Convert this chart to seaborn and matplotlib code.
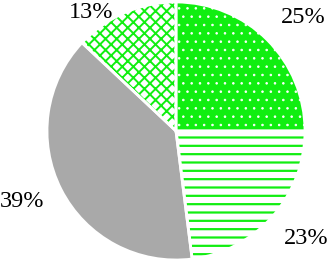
import seaborn as sns
import matplotlib.pyplot as plt

# slice data (clockwise from 12 o'clock)
shares = [25, 23, 39, 13]
faces = ["#11ee11", "white", "#a9a9a9", "white"]
hatch_colors = ["white", "#11ee11", "#a9a9a9", "#11ee11"]
hatches = ["..", "--", "", "xxx"]
hatch_widths = [0.6, 1.6, 1.0, 1.4]

# where the percentage labels sit (pie radius = 1)
label_xy = [(0.984, 0.876), (1.008, -0.837), (-1.194, -0.543), (-0.659, 0.915)]

sns.set_style("white")
plt.rcParams["font.family"] = ["Liberation Serif", "DejaVu Serif"]
plt.rcParams["hatch.linewidth"] = 1.6

fig = plt.figure(figsize=(3.29, 2.63), dpi=100)
ax = fig.add_axes([0, 0, 1, 1])

wedges, texts, autotexts = ax.pie(
    shares, colors=faces, startangle=90, counterclock=False,
    autopct=lambda p: "%d%%" % round(p), pctdistance=1.31,
    wedgeprops=dict(linewidth=0), textprops=dict(fontsize=17.5, color="black"))

for w, h, hc, hw in zip(wedges, hatches, hatch_colors, hatch_widths):
    w.set_hatch(h)
    w.set_edgecolor(hc)
    if hasattr(w, "set_hatch_linewidth"):
        w.set_hatch_linewidth(hw)

for t, xy in zip(autotexts, label_xy):
    t.set_position(xy)

# white separators between slices
ax.pie(shares, startangle=90, counterclock=False,
       wedgeprops=dict(fill=False, edgecolor="white", linewidth=2))

ax.set_aspect("equal")
ax.set_xlim(-176 / 129, (329 - 176) / 129)
ax.set_ylim(-132 / 129, 131 / 129)
ax.axis("off")

plt.savefig("out.png", dpi=100)
